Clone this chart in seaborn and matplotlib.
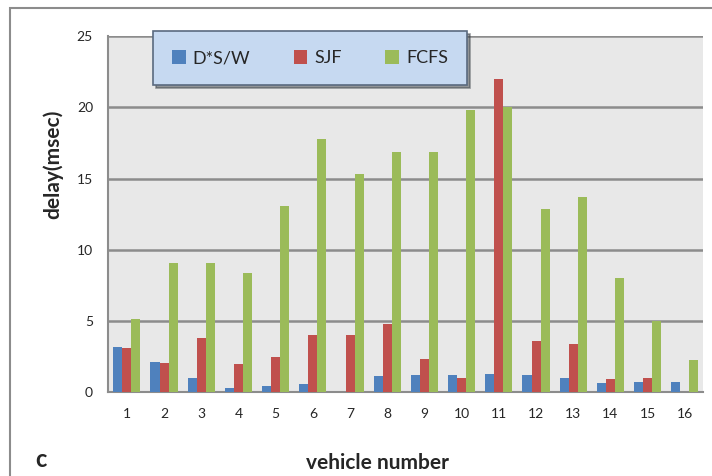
import numpy as np
import pandas as pd
import matplotlib
matplotlib.use('Agg')
import matplotlib.pyplot as plt
import seaborn as sns
from matplotlib.patches import Rectangle

# === Data ===
vehicles = [str(i) for i in range(1, 17)]
schemes = ['D*S/W', 'SJF', 'FCFS']
dsw = [3.2, 2.1, 1.0, 0.28, 0.45, 0.55, 0.0, 1.17, 1.19, 1.19, 1.25, 1.2, 1.0, 0.63, 0.7, 0.75]
sjf = [3.1, 2.05, 3.8, 2.0, 2.5, 4.0, 4.0, 4.8, 2.35, 1.0, 22.0, 3.6, 3.4, 0.9, 1.0, 0.05]
fcfs = [5.15, 9.1, 9.05, 8.35, 13.1, 17.8, 15.3, 16.9, 16.9, 19.8, 20.0, 12.85, 13.7, 8.0, 5.0, 2.25]
colors = ['#4f81bd', '#c0504d', '#9bbb59']

df = pd.DataFrame({
    'vehicle': vehicles * 3,
    'scheme': [s for s in schemes for _ in vehicles],
    'delay': dsw + sjf + fcfs,
})

sns.set_style('white')
plt.rcParams['font.family'] = ['Lato', 'DejaVu Sans']

fig = plt.figure(figsize=(7.12, 4.76), dpi=100)
ax = fig.add_axes([0.152, 0.176, 0.836, 0.748])
ax.set_facecolor('#e8e8e8')

sns.barplot(data=df, x='vehicle', y='delay', hue='scheme', palette=colors,
            width=0.73, gap=0, linewidth=0, saturation=1, ax=ax, zorder=3)

# === Axes styling ===
ax.set_ylim(0, 25)
ax.set_xlim(-0.5, 15.5)
ax.set_yticks([0, 5, 10, 15, 20, 25])
ax.yaxis.grid(True, color='#8c8c8c', linewidth=1.8, zorder=1)
ax.set_axisbelow(True)
for side in ['top', 'right']:
    ax.spines[side].set_visible(False)
ax.spines['left'].set_color('#8c8c8c')
ax.spines['bottom'].set_color('#8c8c8c')
ax.spines['left'].set_linewidth(1.5)
ax.spines['bottom'].set_linewidth(1.5)
ax.tick_params(axis='y', length=5, color='#8c8c8c', width=1.2, labelsize=10, pad=6)
ax.tick_params(axis='x', which='major', length=0, labelsize=10, pad=11)
ax.set_xticks(np.arange(-0.5, 16, 1), minor=True)
ax.tick_params(axis='x', which='minor', length=5, color='#8c8c8c', width=1.2)

ax.set_xlabel('vehicle number', fontsize=15, fontweight='bold')
ax.set_ylabel('delay(msec)', fontsize=15, fontweight='bold')
ax.xaxis.set_label_coords(0.453, -0.172)
ax.yaxis.set_label_coords(-0.076, 0.64)
fig.text(0.049, 0.018, 'c', fontsize=17, fontweight='bold')

# === Legend ===
leg = ax.legend(loc='center', bbox_to_anchor=(0.339, 0.938), ncol=3, frameon=True,
                fontsize=13, handlelength=0.75, handleheight=0.75, handletextpad=0.4,
                columnspacing=2.4, borderpad=1.05, borderaxespad=0,
                fancybox=False, shadow=True, title=None)
leg.get_frame().set_facecolor('#c6d9f1')
leg.get_frame().set_edgecolor('#5a6a80')
leg.get_frame().set_linewidth(1.2)
leg.get_frame().set_alpha(1)
leg.set_zorder(5)

# === Outer border (only top and left edges fall inside the image) ===
fig.patches.append(Rectangle((0.014, -0.1), 1.2, 1.084, transform=fig.transFigure,
                             fill=False, edgecolor='#8c8c8c', linewidth=1.5))

fig.savefig('out.png', dpi=100)
